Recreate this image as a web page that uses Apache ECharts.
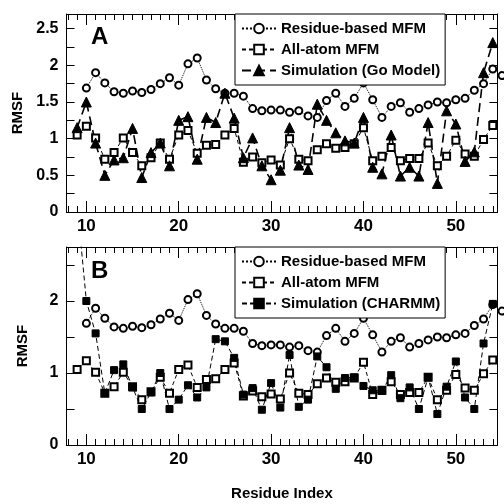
<!DOCTYPE html>
<html>
<head>
<meta charset="utf-8">
<script src="https://cdn.jsdelivr.net/npm/echarts@6/dist/echarts.min.js"></script>
<style>
  html, body { margin: 0; padding: 0; background: #fff; }
  #chart { width: 504px; height: 504px; }
</style>
</head>
<body>
<div id="chart"></div>
<script>
// residue numbers
const resCircle = [10,11,12,13,14,15,16,17,18,19,20,21,22,23,24,25,26,27,28,29,30,31,32,33,34,35,36,37,38,39,40,41,42,43,44,45,46,47,48,49,50,51,52,53,54,55];
const resOther = [9,10,11,12,13,14,15,16,17,18,19,20,21,22,23,24,25,26,27,28,29,30,31,32,33,34,35,36,37,38,39,40,41,42,43,44,45,46,47,48,49,50,51,52,53,54];

// RMSF values
const residueMFM = [1.69,1.90,1.76,1.64,1.62,1.65,1.63,1.67,1.75,1.83,
  1.73,2.02,2.10,1.80,1.68,1.62,1.62,1.58,1.41,1.38,
  1.39,1.39,1.36,1.38,1.31,1.29,1.52,1.62,1.44,1.55,
  1.76,1.53,1.29,1.44,1.49,1.36,1.41,1.46,1.50,1.49,
  1.53,1.55,1.66,1.75,1.95,1.86];
const allAtomMFM = [1.05,1.17,1.01,0.72,0.81,1.01,0.81,0.63,0.74,0.94,
  0.72,1.05,1.11,0.80,0.91,0.92,1.05,1.14,0.68,0.75,
  0.67,0.71,0.64,1.00,0.72,0.70,0.85,0.93,0.87,0.88,
  0.93,1.15,0.70,0.76,0.88,0.70,0.73,0.73,0.94,0.63,
  0.76,0.98,0.79,0.76,0.99,1.18];
const goModel = [1.15,1.50,0.94,0.50,0.71,0.74,1.14,0.47,0.81,0.94,
  0.63,1.25,1.30,0.72,1.29,1.22,1.62,1.28,0.74,1.01,
  0.63,0.44,0.57,1.15,0.64,0.58,1.47,1.25,1.08,0.97,
  0.94,1.29,0.61,0.52,1.05,0.49,0.61,0.49,1.22,0.39,
  1.38,1.20,0.69,0.82,1.90,2.31];
const charmm = [3.35,2.00,1.55,0.72,1.04,1.12,0.80,0.50,0.73,1.00,
  0.50,0.63,0.83,0.66,0.80,1.47,1.44,1.21,0.70,0.79,
  0.49,0.86,0.52,1.25,0.53,0.63,1.23,1.08,0.78,0.93,
  0.94,0.82,0.76,0.75,0.97,0.65,0.80,0.50,0.94,0.43,
  0.81,1.16,0.66,0.50,1.41,1.96];

// ticks and labels
const xMajor = [10,20,30,40,50];
const xMinor = [8,9,11,12,13,14,15,16,17,18,19,21,22,23,24,25,26,27,28,29,31,32,33,34,35,36,37,38,39,41,42,43,44,45,46,47,48,49,51,52,53,54];
const yTicksA = [0,0.25,0.5,0.75,1,1.25,1.5,1.75,2,2.25,2.5];
const yLabelsA = [0,0.5,1,1.5,2,2.5];
const yTicksB = [0,0.5,1,1.5,2,2.5];
const yLabelsB = [0,1,2];

const FONT = '"Liberation Sans", Arial, Helvetica, sans-serif';
const black = '#000';

function pairs(xs, ys) { return xs.map((x, i) => [x, ys[i]]); }

function xAxes(grid, withLabels, name) {
  const base = {
    type: 'value', gridIndex: grid, min: 7.85, max: 54.5,
    axisLine: { show: true, onZero: false, lineStyle: { color: black, width: 1 } },
    splitLine: { show: false }
  };
  const out = [];
  ['bottom', 'top'].forEach(pos => {
    out.push(Object.assign({}, base, {
      position: pos,
      axisTick: { show: true, inside: true, length: 11, customValues: xMajor, lineStyle: { color: black } },
      axisLabel: pos === 'bottom' && withLabels ? {
        show: true, customValues: xMajor, margin: 6, color: black,
        fontSize: 17, fontWeight: 'bold', fontFamily: FONT
      } : { show: false },
      name: pos === 'bottom' && name ? name : '',
      nameLocation: 'middle', nameGap: 41,
      nameTextStyle: { fontSize: 15, fontWeight: 'bold', fontFamily: FONT, color: black }
    }));
    out.push(Object.assign({}, base, {
      position: pos,
      axisTick: { show: true, inside: true, length: 6, customValues: xMinor, lineStyle: { color: black } },
      axisLabel: { show: false }
    }));
  });
  return out;
}

function yAxes(grid, max, ticks, labels) {
  const base = {
    type: 'value', gridIndex: grid, min: 0, max: max,
    axisLine: { show: true, onZero: false, lineStyle: { color: black, width: 1 } },
    axisTick: { show: true, inside: true, length: 8, customValues: ticks, lineStyle: { color: black } },
    splitLine: { show: false }
  };
  return [
    Object.assign({}, base, {
      position: 'left',
      axisLabel: { show: true, customValues: labels, margin: 8, color: black,
        fontSize: 16, fontWeight: 'bold', fontFamily: FONT },
      name: 'RMSF', nameLocation: 'middle', nameGap: 36,
      nameTextStyle: { fontSize: 15, fontWeight: 'bold', fontFamily: FONT, color: black }
    }),
    Object.assign({}, base, { position: 'right', axisLabel: { show: false } })
  ];
}

function lineSeries(name, xs, ys, xi, yi, symbol, size, dash, width, clip) {
  return {
    name: name, type: 'line', xAxisIndex: xi, yAxisIndex: yi,
    data: pairs(xs, ys), symbol: symbol, symbolSize: size, clip: clip,
    itemStyle: { color: black, borderColor: black, borderWidth: 1 },
    lineStyle: { color: black, width: width, type: dash },
    animation: false
  };
}

const legendBase = {
  left: 235, orient: 'vertical', itemWidth: 34, itemHeight: 12, itemGap: 6,
  padding: [7, 5, 7, 6], borderColor: black, borderWidth: 1, backgroundColor: '#fff',
  selectedMode: false,
  textStyle: { fontSize: 15, fontWeight: 'bold', fontFamily: FONT, color: black }
};

const chart = echarts.init(document.getElementById('chart'));
chart.setOption({
  backgroundColor: '#fff',
  animation: false,
  grid: [
    { left: 66.5, right: 6.6, top: 14, height: 198 },
    { left: 66.5, right: 6.6, top: 247, height: 198 }
  ],
  xAxis: xAxes(0, true, '').concat(xAxes(1, true, 'Residue Index')),
  yAxis: yAxes(0, 2.7, yTicksA, yLabelsA).concat(yAxes(1, 2.75, yTicksB, yLabelsB)),
  legend: [
    Object.assign({}, legendBase, { top: 14,
      data: ['Residue-based MFM', 'All-atom MFM', 'Simulation (Go Model)'] }),
    Object.assign({}, legendBase, { top: 247,
      data: ['Residue-based MFM', 'All-atom MFM', 'Simulation (CHARMM)'] })
  ],
  graphic: [
    { type: 'text', x: 91, y: 37, style: { text: 'A', fontSize: 24, fontWeight: 'bold', fontFamily: FONT, fill: black, verticalAlign: 'middle' } },
    { type: 'text', x: 91, y: 271, style: { text: 'B', fontSize: 24, fontWeight: 'bold', fontFamily: FONT, fill: black, verticalAlign: 'middle' } }
  ],
  series: [
    lineSeries('Residue-based MFM', resCircle, residueMFM, 0, 0, 'emptyCircle', 7, 'dotted', 1, false),
    lineSeries('All-atom MFM', resOther, allAtomMFM, 0, 0, 'emptyRect', 7, [4, 3], 1, false),
    lineSeries('Simulation (Go Model)', resOther, goModel, 0, 0, 'triangle', 10, [9, 5], 1.6, false),
    lineSeries('Residue-based MFM', resCircle, residueMFM, 4, 2, 'emptyCircle', 7, 'dotted', 1, false),
    lineSeries('All-atom MFM', resOther, allAtomMFM, 4, 2, 'emptyRect', 7, [4, 3], 1, false),
    lineSeries('Simulation (CHARMM)', resOther, charmm, 4, 2, 'rect', 7, [5, 3], 1, true)
  ]
});
window.addEventListener('resize', function () { chart.resize(); });
</script>
</body>
</html>
